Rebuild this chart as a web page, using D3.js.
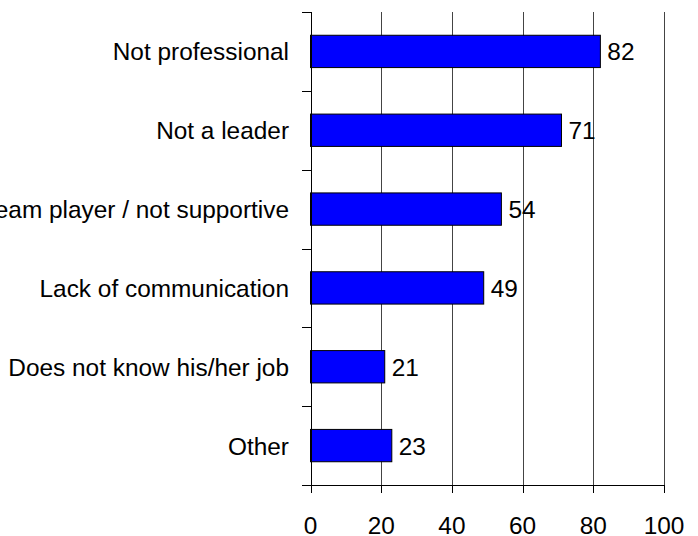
<!DOCTYPE html>
<html>
<head>
<meta charset="utf-8">
<script src="https://cdn.jsdelivr.net/npm/d3@7/dist/d3.min.js"></script>
<style>
  html, body { margin: 0; padding: 0; background: #fff; }
  svg { display: block; }
  text { font-family: "Liberation Sans", Arial, sans-serif; fill: #000; }
</style>
</head>
<body>
<svg id="chart" width="698" height="536"></svg>
<script>
const categories = [
  "Not professional",
  "Not a leader",
  "Not a team player / not supportive",
  "Lack of communication",
  "Does not know his/her job",
  "Other"
];
const values = [82, 71, 54, 49, 21, 23];
const xTicks = [0, 20, 40, 60, 80, 100];

const svg = d3.select("#chart");
const plotLeft = 310.5, plotRight = 664, plotTop = 12, plotBottom = 485;
const fontSize = 24.4;

const x = d3.scaleLinear().domain([0, 100]).range([plotLeft, plotRight]);
const y = d3.scaleBand().domain(categories).range([plotTop, plotBottom])
  .paddingInner(0.59).paddingOuter(0.295);

// category boundaries for the left-hand tick marks
const step = (plotBottom - plotTop) / categories.length;
const bounds = d3.range(categories.length + 1).map(i => plotTop + i * step);
const px = v => Math.round(v) + 0.5;

// vertical gridlines
svg.append("g").selectAll("line")
  .data(xTicks.filter(d => d > 0))
  .join("line")
  .attr("x1", d => px(x(d))).attr("x2", d => px(x(d)))
  .attr("y1", plotTop).attr("y2", plotBottom)
  .attr("stroke", "#444").attr("stroke-width", 1);

// bars
svg.append("g").selectAll("rect")
  .data(values)
  .join("rect")
  .attr("x", x(0))
  .attr("y", (d, i) => y(categories[i]))
  .attr("width", d => x(d) - x(0))
  .attr("height", y.bandwidth())
  .attr("fill", "#0000ff")
  .attr("stroke", "#000")
  .attr("stroke-width", 1);

// value labels
svg.append("g").selectAll("text")
  .data(values)
  .join("text")
  .attr("x", d => x(d) + 7)
  .attr("y", (d, i) => y(categories[i]) + y.bandwidth() / 2)
  .attr("dy", "0.37em")
  .attr("font-size", fontSize)
  .text(d => d);

// category labels
svg.append("g").selectAll("text")
  .data(categories)
  .join("text")
  .attr("x", 289)
  .attr("y", d => y(d) + y.bandwidth() / 2)
  .attr("dy", "0.37em")
  .attr("text-anchor", "end")
  .attr("font-size", fontSize)
  .text(d => d);

// y axis line and ticks
const ax = svg.append("g").attr("stroke", "#000").attr("stroke-width", 1);
ax.append("line")
  .attr("x1", px(x(0))).attr("x2", px(x(0)))
  .attr("y1", plotTop).attr("y2", plotBottom);
ax.selectAll("line.yt")
  .data(bounds)
  .join("line").attr("class", "yt")
  .attr("x1", 302).attr("x2", px(x(0)))
  .attr("y1", d => px(d)).attr("y2", d => px(d));

// x axis line, ticks and labels
ax.append("line")
  .attr("x1", 302).attr("x2", x(100))
  .attr("y1", plotBottom + 0.5).attr("y2", plotBottom + 0.5);
ax.selectAll("line.xt")
  .data(xTicks)
  .join("line").attr("class", "xt")
  .attr("x1", d => px(x(d))).attr("x2", d => px(x(d)))
  .attr("y1", plotBottom).attr("y2", plotBottom + 8);

svg.append("g").selectAll("text")
  .data(xTicks)
  .join("text")
  .attr("x", d => x(d))
  .attr("y", 534)
  .attr("text-anchor", "middle")
  .attr("font-size", fontSize)
  .text(d => d);
</script>
</body>
</html>
